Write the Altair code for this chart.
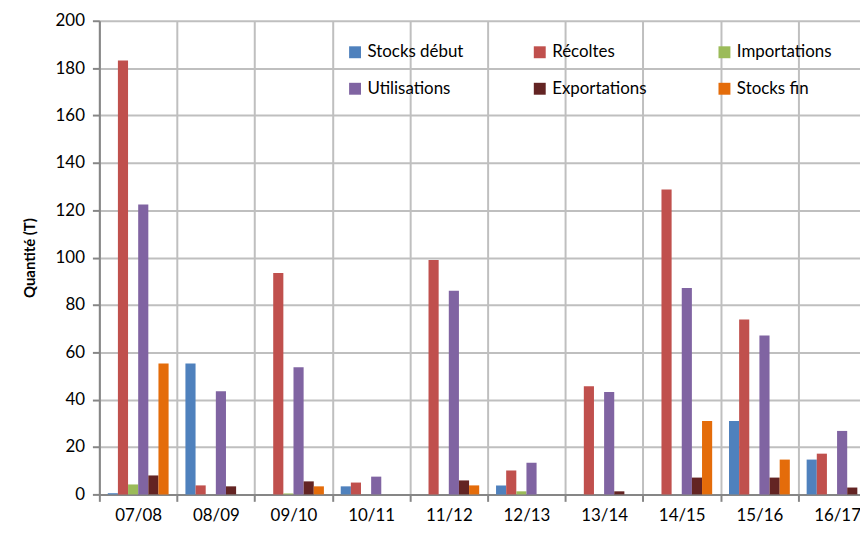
import altair as alt
import pandas as pd

categories = ["07/08", "08/09", "09/10", "10/11", "11/12", "12/13", "13/14", "14/15", "15/16", "16/17"]
series = ["Stocks début", "Récoltes", "Importations", "Utilisations", "Exportations", "Stocks fin"]
colors = ["#4F81BD", "#C0504D", "#9BBB59", "#8064A2", "#632423", "#E46C0A"]

stocks_debut = [0.5, 55.3, 0, 3.4, 0, 3.8, 0, 0, 31.0, 14.7]
recoltes = [183.2, 3.8, 93.5, 5.0, 99.0, 10.1, 45.7, 128.7, 73.8, 17.2]
importations = [4.2, 0, 0.4, 0, 0, 1.3, 0, 0, 0, 0]
utilisations = [122.4, 43.6, 53.7, 7.5, 86.0, 13.4, 43.2, 87.2, 67.1, 26.8]
exportations = [8.0, 3.4, 5.5, 0, 5.9, 0, 1.3, 7.1, 7.1, 2.9]
stocks_fin = [55.3, 0, 3.4, 0, 3.8, 0, 0, 31.0, 14.7, 0]

values = [stocks_debut, recoltes, importations, utilisations, exportations, stocks_fin]
rows = []
for s, vals in zip(series, values):
    for c, v in zip(categories, vals):
        rows.append({"Campagne": c, "Série": s, "Quantité": v})
df = pd.DataFrame(rows)

FONT = "Lato"

chart = alt.Chart(df).mark_bar().encode(
    x=alt.X("Campagne:N", sort=categories, title=None,
            scale=alt.Scale(range=[0, 782], paddingInner=0, paddingOuter=0),
            axis=alt.Axis(tickBand="extent", labelAngle=0, labelFontSize=17, labelFont=FONT,
                          labelColor="#000000", labelPadding=6, tickSize=7, tickWidth=2,
                          tickColor="#868686", domainColor="#868686", domainWidth=2,
                          grid=True, gridColor="#BFBFBF", gridWidth=2)),
    xOffset=alt.XOffset("Série:N", sort=series,
                        scale=alt.Scale(paddingInner=0, paddingOuter=0.83)),
    y=alt.Y("Quantité:Q", title="Quantité (T)",
            scale=alt.Scale(domain=[0, 200], nice=False),
            axis=alt.Axis(values=list(range(0, 201, 20)), labelFontSize=17, labelFont=FONT,
                          labelColor="#000000", labelPadding=8, tickSize=7, tickWidth=2,
                          tickColor="#868686", domainColor="#868686", domainWidth=2,
                          grid=True, gridColor="#BFBFBF", gridWidth=2,
                          titleFont=FONT, titleFontSize=15, titleFontWeight="bold",
                          titleColor="#000000", titlePadding=18)),
    color=alt.Color("Série:N", sort=series,
                    scale=alt.Scale(domain=series, range=colors),
                    legend=alt.Legend(title=None, orient="none", legendX=249, legendY=23,
                                      direction="horizontal",
                                      columns=3, gridAlign="all", columnPadding=68,
                                      rowPadding=19, symbolType="square", symbolSize=144,
                                      symbolStrokeWidth=0, labelFont=FONT, labelFontSize=17,
                                      labelColor="#000000", labelOffset=4)),
).properties(
    width=766, height=477,
    autosize=alt.AutoSizeParams(type="none"),
    padding={"left": 92, "top": 11, "right": 0, "bottom": 30},
).configure_view(stroke=None)

chart.save("out.html", embed_options={"renderer": "svg", "actions": False})
